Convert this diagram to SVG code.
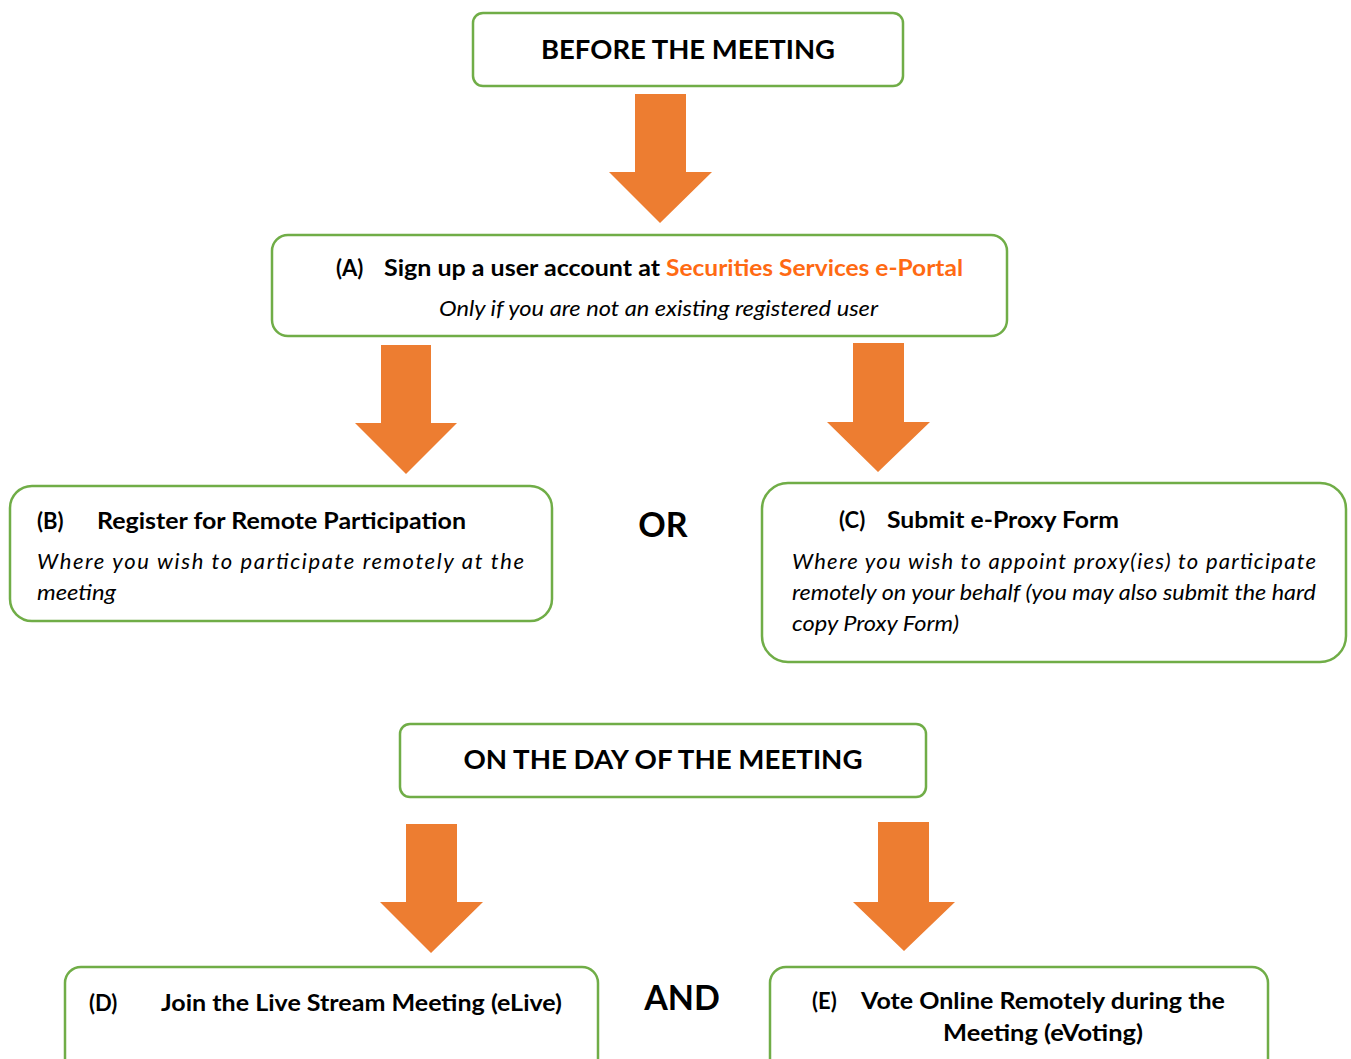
<svg xmlns="http://www.w3.org/2000/svg" width="1351" height="1059" viewBox="0 0 1351 1059">
<style>
.box{fill:#fff;stroke:#70AD47;stroke-width:2.5}
.arr{fill:#ED7D31}
text{font-family:Lato,"Open Sans","Liberation Sans",sans-serif;fill:#000}
.h{font-weight:bold;font-size:26px}
.b{font-weight:bold;font-size:22px}
.i{font-style:italic;font-size:22px}
.big{font-weight:bold;font-size:34px}
.or{fill:#FF6A13}
</style>
<rect width="1351" height="1059" fill="#fff"/>
<g id="connectors">
<polygon class="arr" points="635,94 686,94 686,172 712,172 660,223 609,172 635,172"/>
<polygon class="arr" points="381,345 431,345 431,423 457,423 406,474 355,423 381,423"/>
<polygon class="arr" points="853,343 904,343 904,422 930,422 878,472 827,422 853,422"/>
<polygon class="arr" points="406,824 457,824 457,902 483,902 431,953 380,902 406,902"/>
<polygon class="arr" points="878,822 929,822 929,902 955,902 904,951 853,902 878,902"/>
</g>
<g id="before">
<rect class="box" x="473" y="13" width="430" height="73" rx="10"/>
<text class="h" x="688" y="59" text-anchor="middle" textLength="294" lengthAdjust="spacingAndGlyphs">BEFORE THE MEETING</text>
</g>
<g id="nodeA">
<rect class="box" x="272" y="235" width="735" height="101" rx="16"/>
<text class="b" x="336" y="276">(A)</text>
<text class="b" x="384" y="276" textLength="276" lengthAdjust="spacingAndGlyphs">Sign up a user account at</text>
<text class="b or" x="666" y="276" textLength="297" lengthAdjust="spacingAndGlyphs">Securities Services e-Portal</text>
<text class="i" x="439" y="316" textLength="439" lengthAdjust="spacingAndGlyphs">Only if you are not an existing registered user</text>
</g>
<g id="nodeB">
<rect class="box" x="10" y="486" width="542" height="135" rx="22"/>
<text class="b" x="37" y="529">(B)</text>
<text class="b" x="97" y="529" textLength="369" lengthAdjust="spacingAndGlyphs">Register for Remote Participation</text>
<text class="i" x="37" y="569" textLength="487" lengthAdjust="spacing">Where you wish to participate remotely at the</text>
<text class="i" x="37" y="600" textLength="79" lengthAdjust="spacingAndGlyphs">meeting</text>
</g>
<g id="or">
<text class="big" x="663" y="537" text-anchor="middle">OR</text>
</g>
<g id="nodeC">
<rect class="box" x="762" y="483" width="584" height="179" rx="26"/>
<text class="b" x="839" y="528">(C)</text>
<text class="b" x="887" y="528" textLength="232" lengthAdjust="spacingAndGlyphs">Submit e-Proxy Form</text>
<text class="i" x="792" y="569" textLength="524" lengthAdjust="spacing">Where you wish to appoint proxy(ies) to participate</text>
<text class="i" x="792" y="600" textLength="524" lengthAdjust="spacingAndGlyphs">remotely on your behalf (you may also submit the hard</text>
<text class="i" x="792" y="631" textLength="167" lengthAdjust="spacingAndGlyphs">copy Proxy Form)</text>
</g>
<g id="day">
<rect class="box" x="400" y="724" width="526" height="73" rx="10"/>
<text class="h" x="663" y="769" text-anchor="middle" textLength="399" lengthAdjust="spacingAndGlyphs">ON THE DAY OF THE MEETING</text>
</g>
<g id="nodeD">
<rect class="box" x="65" y="967" width="533" height="110" rx="16"/>
<text class="b" x="89" y="1011">(D)</text>
<text class="b" x="161" y="1011" textLength="401" lengthAdjust="spacingAndGlyphs">Join the Live Stream Meeting (eLive)</text>
</g>
<g id="and">
<text class="big" x="682" y="1010" text-anchor="middle">AND</text>
</g>
<g id="nodeE">
<rect class="box" x="770" y="967" width="498" height="110" rx="16"/>
<text class="b" x="812" y="1009">(E)</text>
<text class="b" x="861" y="1009" textLength="364" lengthAdjust="spacingAndGlyphs">Vote Online Remotely during the</text>
<text class="b" x="1043" y="1041" text-anchor="middle" textLength="200" lengthAdjust="spacingAndGlyphs">Meeting (eVoting)</text>
</g>
</svg>
